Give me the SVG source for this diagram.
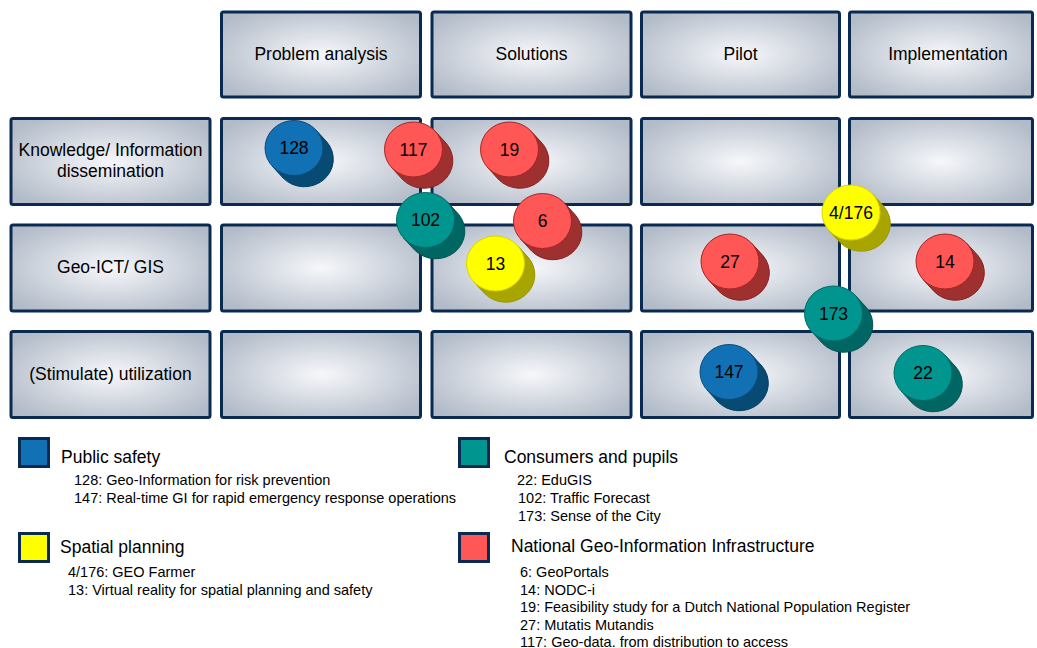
<svg xmlns="http://www.w3.org/2000/svg" width="1037" height="648" viewBox="0 0 1037 648">
<defs>
<radialGradient id="cellg" cx="0.5" cy="0.5" r="0.62">
<stop offset="0" stop-color="#F6F7FA"/>
<stop offset="1" stop-color="#B2BBC8"/>
</radialGradient>
<path id="back" d="M21.9,-18 L32.9,-6 A29,27.5 0 0 1 -10.9,30 L-21.9,18 Z"/>
</defs>
<style>
.cell{fill:url(#cellg);stroke:#0B2A52;stroke-width:3}
.lbl{font-family:"Liberation Sans",Arial,sans-serif;font-size:17.5px;fill:#000;text-anchor:middle}
.num{font-family:"Liberation Sans",Arial,sans-serif;font-size:17.5px;fill:#000;text-anchor:middle}
.lh{font-family:"Liberation Sans",Arial,sans-serif;font-size:17.5px;fill:#000}
.li{font-family:"Liberation Sans",Arial,sans-serif;font-size:14.5px;fill:#000}
.sq{stroke:#0B2A52;stroke-width:3}
.front{stroke-width:1}
.blue .front{fill:#1271B4;stroke:#0A4C7C}
.blue .bk{fill:#074A74;stroke:#063E62;stroke-width:1}
.red .front{fill:#FF5656;stroke:#A82424}
.red .bk{fill:#9E3030;stroke:#8A2020;stroke-width:1}
.teal .front{fill:#00968F;stroke:#006B66}
.teal .bk{fill:#006663;stroke:#005552;stroke-width:1}
.yel .front{fill:#FFFF00;stroke:#D6D600}
.yel .bk{fill:#A8A500;stroke:#9A9700;stroke-width:1}
</style>
<rect width="1037" height="648" fill="#FFFFFF"/>

<g id="grid">
<g id="h-problem"><rect class="cell" x="221.5" y="12" width="199" height="85" rx="2"/><text class="lbl" x="321" y="60">Problem analysis</text></g>
<g id="h-solutions"><rect class="cell" x="432" y="12" width="199" height="85" rx="2"/><text class="lbl" x="531.5" y="60">Solutions</text></g>
<g id="h-pilot"><rect class="cell" x="641.5" y="12" width="198" height="85" rx="2"/><text class="lbl" x="740.5" y="60">Pilot</text></g>
<g id="h-impl"><rect class="cell" x="849.5" y="12" width="183" height="85" rx="2"/><text class="lbl" x="948" y="60">Implementation</text></g>

<g id="r-knowledge"><rect class="cell" x="11" y="118.5" width="199" height="86" rx="2"/><text class="lbl" x="110.5" y="156">Knowledge/ Information</text><text class="lbl" x="110.5" y="177">dissemination</text></g>
<g id="r-geoict"><rect class="cell" x="11" y="225" width="199" height="86" rx="2"/><text class="lbl" x="110.5" y="273">Geo-ICT/ GIS</text></g>
<g id="r-util"><rect class="cell" x="11" y="331.5" width="199" height="86" rx="2"/><text class="lbl" x="110.5" y="380">(Stimulate) utilization</text></g>

<g id="c11"><rect class="cell" x="221.5" y="118.5" width="199" height="86" rx="2"/></g>
<g id="c12"><rect class="cell" x="432" y="118.5" width="199" height="86" rx="2"/></g>
<g id="c13"><rect class="cell" x="641.5" y="118.5" width="198" height="86" rx="2"/></g>
<g id="c14"><rect class="cell" x="849.5" y="118.5" width="183" height="86" rx="2"/></g>
<g id="c21"><rect class="cell" x="221.5" y="225" width="199" height="86" rx="2"/></g>
<g id="c22"><rect class="cell" x="432" y="225" width="199" height="86" rx="2"/></g>
<g id="c23"><rect class="cell" x="641.5" y="225" width="198" height="86" rx="2"/></g>
<g id="c24"><rect class="cell" x="849.5" y="225" width="183" height="86" rx="2"/></g>
<g id="c31"><rect class="cell" x="221.5" y="331.5" width="199" height="86" rx="2"/></g>
<g id="c32"><rect class="cell" x="432" y="331.5" width="199" height="86" rx="2"/></g>
<g id="c33"><rect class="cell" x="641.5" y="331.5" width="198" height="86" rx="2"/></g>
<g id="c34"><rect class="cell" x="849.5" y="331.5" width="183" height="86" rx="2"/></g>
</g>

<g id="connectors"></g>

<g id="b128" class="blue" transform="translate(294,148)"><use class="bk" href="#back"/><ellipse class="front" rx="29" ry="27.5"/><text class="num" y="6.3">128</text></g>
<g id="b117" class="red" transform="translate(413.5,149.5)"><use class="bk" href="#back"/><ellipse class="front" rx="29" ry="27.5"/><text class="num" y="6.3">117</text></g>
<g id="b19" class="red" transform="translate(509.5,149.5)"><use class="bk" href="#back"/><ellipse class="front" rx="29" ry="27.5"/><text class="num" y="6.3">19</text></g>
<g id="b102" class="teal" transform="translate(425.5,220)"><use class="bk" href="#back"/><ellipse class="front" rx="29" ry="27.5"/><text class="num" y="6.3">102</text></g>
<g id="b13" class="yel" transform="translate(495.5,263.5)"><use class="bk" href="#back"/><ellipse class="front" rx="29" ry="27.5"/><text class="num" y="6.3">13</text></g>
<g id="b6" class="red" transform="translate(542.5,221)"><use class="bk" href="#back"/><ellipse class="front" rx="29" ry="27.5"/><text class="num" y="6.3">6</text></g>
<g id="b4-176" class="yel" transform="translate(851,212.5)"><use class="bk" href="#back"/><ellipse class="front" rx="29" ry="27.5"/><text class="num" y="6.3">4/176</text></g>
<g id="b27" class="red" transform="translate(730,261.5)"><use class="bk" href="#back"/><ellipse class="front" rx="29" ry="27.5"/><text class="num" y="6.3">27</text></g>
<g id="b14" class="red" transform="translate(945,261.5)"><use class="bk" href="#back"/><ellipse class="front" rx="29" ry="27.5"/><text class="num" y="6.3">14</text></g>
<g id="b173" class="teal" transform="translate(833.5,313.5)"><use class="bk" href="#back"/><ellipse class="front" rx="29" ry="27.5"/><text class="num" y="6.3">173</text></g>
<g id="b147" class="blue" transform="translate(729,372)"><use class="bk" href="#back"/><ellipse class="front" rx="29" ry="27.5"/><text class="num" y="6.3">147</text></g>
<g id="b22" class="teal" transform="translate(923,373)"><use class="bk" href="#back"/><ellipse class="front" rx="29" ry="27.5"/><text class="num" y="6.3">22</text></g>

<g id="legend-public">
<rect class="sq" x="19.5" y="438.5" width="29" height="28" fill="#1271B4"/>
<text class="lh" x="61" y="463">Public safety</text>
<text class="li" x="74" y="485">128: Geo-Information for risk prevention</text>
<text class="li" x="74" y="503">147: Real-time GI for rapid emergency response operations</text>
</g>
<g id="legend-consumers">
<rect class="sq" x="459.5" y="438.5" width="29" height="28" fill="#00968F"/>
<text class="lh" x="504" y="463">Consumers and pupils</text>
<text class="li" x="517" y="485">22: EduGIS</text>
<text class="li" x="518" y="503">102: Traffic Forecast</text>
<text class="li" x="518" y="521">173: Sense of the City</text>
</g>
<g id="legend-spatial">
<rect class="sq" x="19.5" y="533.5" width="29" height="28" fill="#FFFF00"/>
<text class="lh" x="60" y="553">Spatial planning</text>
<text class="li" x="68" y="577">4/176: GEO Farmer</text>
<text class="li" x="68" y="595">13: Virtual reality for spatial planning and safety</text>
</g>
<g id="legend-ngii">
<rect class="sq" x="459.5" y="533.5" width="29" height="28" fill="#FF5656"/>
<text class="lh" x="511" y="552">National Geo-Information Infrastructure</text>
<text class="li" x="520" y="577">6: GeoPortals</text>
<text class="li" x="520" y="595">14: NODC-i</text>
<text class="li" x="520" y="612">19: Feasibility study for a Dutch National Population Register</text>
<text class="li" x="520" y="630">27: Mutatis Mutandis</text>
<text class="li" x="520" y="647">117: Geo-data. from distribution to access</text>
</g>
</svg>
